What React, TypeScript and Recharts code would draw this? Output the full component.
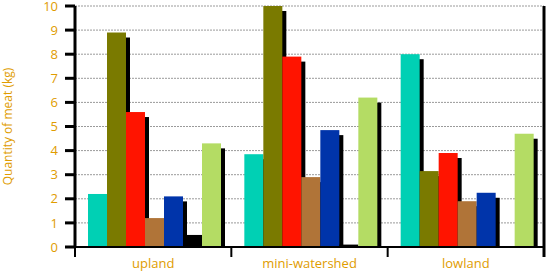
import React from 'react';
import { BarChart, Bar, XAxis, YAxis, CartesianGrid } from 'recharts';

const categories = ['upland', 'mini-watershed', 'lowland'];
const tealValues = [2.2, 3.85, 8.0];
const oliveValues = [8.9, 10, 3.15];
const redValues = [5.6, 7.9, 3.9];
const brownValues = [1.2, 2.9, 1.9];
const blueValues = [2.1, 4.85, 2.25];
const blackValues = [0.5, 0.1, 0];
const lightGreenValues = [4.3, 6.2, 4.7];
const yTicks = [0, 1, 2, 3, 4, 5, 6, 7, 8, 9, 10];

const series = [
  { key: 's1', values: tealValues, color: '#00D0B4' },
  { key: 's2', values: oliveValues, color: '#7A7A00' },
  { key: 's3', values: redValues, color: '#FF1400' },
  { key: 's4', values: brownValues, color: '#B07438' },
  { key: 's5', values: blueValues, color: '#0034AA' },
  { key: 's6', values: blackValues, color: '#000000' },
  { key: 's7', values: lightGreenValues, color: '#B4DC64' },
];

const data = categories.map((c, i) => {
  const row: any = { name: c };
  series.forEach((s) => {
    row[s.key] = s.values[i];
  });
  return row;
});

const LABEL_COLOR = '#E09C00';

const ShadowBar = (color: string) => (props: any) => {
  const { x, y, width, height } = props;
  if (!height || height <= 0) return null;
  const sh = Math.max(height - 5, 0);
  return (
    <g>
      <rect x={x + 4} y={y + 5} width={width} height={sh} fill="#000" />
      <rect x={x} y={y} width={width} height={height} fill={color} />
    </g>
  );
};

const CatTick = (props: any) => {
  const { x, y, payload, index, visibleTicksCount } = props;
  const off = payload && payload.offset != null ? payload.offset : 0;
  const last = index === (visibleTicksCount ?? categories.length) - 1;
  return (
    <g>
      <line x1={x - off} x2={x - off} y1={y} y2={y + 10} stroke="#000" strokeWidth={2} />
      {last && <line x1={x + off} x2={x + off} y1={y} y2={y + 10} stroke="#000" strokeWidth={3} />}
      <text x={x} y={y + 21} textAnchor="middle" fill={LABEL_COLOR} fontSize={13} fontFamily="Open Sans">
        {payload.value}
      </text>
    </g>
  );
};

export default function App() {
  return (
    <div style={{ position: 'absolute', left: 0, top: 0, background: '#fff' }}>
      <BarChart
        width={550}
        height={274}
        data={data}
        margin={{ top: 6, right: 3, left: 0, bottom: 0 }}
        barCategoryGap={13}
        barGap={0}
        style={{ fontFamily: 'Open Sans' }}
      >
        <CartesianGrid vertical={false} stroke="#9a9a9a" strokeDasharray="2 1" yAxisId="left" />
        <XAxis
          dataKey="name"
          height={27}
          tickSize={0}
          tickMargin={0}
          tickLine={false}
          axisLine={{ stroke: '#000', strokeWidth: 2 }}
          tick={<CatTick />}
          interval={0}
        />
        <YAxis
          yAxisId="left"
          width={75}
          domain={[0, 10]}
          ticks={yTicks}
          interval={0}
          tickSize={10}
          tickMargin={7}
          tickLine={{ stroke: '#000', strokeWidth: 3 }}
          axisLine={{ stroke: '#000', strokeWidth: 3 }}
          tick={{ fill: LABEL_COLOR, fontSize: 13, fontFamily: 'Open Sans' }}
          label={{
            value: 'Quantity of meat (kg)',
            angle: -90,
            position: 'insideLeft',
            offset: 8,
            fill: LABEL_COLOR,
            fontSize: 12,
            fontFamily: 'Open Sans',
            style: { textAnchor: 'middle' },
          }}
        />
        <YAxis
          yAxisId="right"
          orientation="right"
          width={3}
          domain={[0, 10]}
          tick={false}
          tickLine={false}
          axisLine={{ stroke: '#000', strokeWidth: 3 }}
        />
        {series.map((s) => (
          <Bar
            key={s.key}
            yAxisId="left"
            dataKey={s.key}
            fill={s.color}
            shape={ShadowBar(s.color)}
            isAnimationActive={false}
          />
        ))}
      </BarChart>
    </div>
  );
}
